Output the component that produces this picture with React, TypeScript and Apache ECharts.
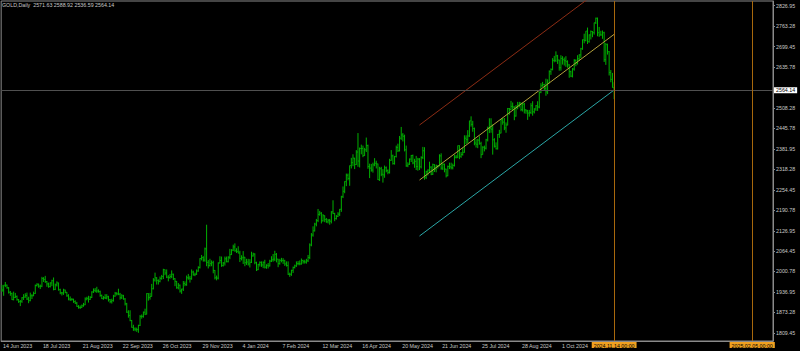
import { useEffect, useRef } from 'react';
import * as echarts from 'echarts';

const FONT = '"Liberation Sans", Arial, sans-serif';
const HEADER = 'GOLD,Daily  2571.63 2588.92 2536.59 2564.14';
const FIRST_DAY = '2023-06-14';
const HOLIDAYS = ['2023-12-25', '2024-01-01', '2024-03-29'];
const FUTURE_SLOTS = 95;
const MONTHS = ['Jan', 'Feb', 'Mar', 'Apr', 'May', 'Jun', 'Jul', 'Aug', 'Sep', 'Oct', 'Nov', 'Dec'];

// daily bars: [open, high, low, close]
const ohlc2023: number[][] = [
  [1943,1959,1937,1943],[1943,1958,1925,1958],[1958,1968,1952,1958],[1958,1960,1947,1950],[1950,1952,1932,1936],[1936,1940,1925,1932],[1932,1935,1912,1913],[1913,1938,1911,1920],[1920,1934,1918,1923],[1923,1926,1910,1913],[1913,1915,1903,1907],[1907,1912,1893,1908],[1908,1921,1903,1919],
  [1919,1930,1912,1921],[1921,1933,1919,1926],[1926,1935,1912,1915],[1915,1922,1902,1910],[1910,1935,1908,1925],[1925,1930,1915,1925],[1925,1938,1924,1932],[1932,1960,1931,1957],[1957,1964,1954,1961],[1961,1963,1950,1955],[1955,1960,1946,1955],[1955,1984,1952,1979],[1979,1983,1968,1976],[1976,1987,1965,1969],[1969,1971,1953,1962],[1962,1966,1950,1954],[1954,1967,1951,1965],[1965,1975,1955,1972],[1972,1982,1942,1945],[1945,1963,1943,1959],[1959,1970,1954,1965],
  [1965,1966,1941,1944],[1944,1947,1930,1934],[1934,1937,1926,1934],[1934,1947,1928,1943],[1943,1944,1933,1936],[1936,1937,1922,1925],[1925,1930,1911,1915],[1915,1923,1909,1913],[1913,1918,1910,1914],[1914,1916,1903,1907],[1907,1911,1900,1902],[1902,1906,1891,1892],[1892,1896,1885,1889],[1889,1895,1884,1889],[1889,1898,1887,1894],[1894,1903,1891,1897],[1897,1920,1896,1915],[1915,1922,1911,1917],[1917,1925,1904,1914],[1914,1924,1912,1920],[1920,1939,1918,1937],[1937,1948,1934,1942],[1942,1949,1936,1940],
  [1940,1953,1934,1940],[1940,1945,1935,1938],[1938,1941,1922,1926],[1926,1929,1915,1916],[1916,1924,1913,1919],[1919,1930,1915,1918],[1918,1930,1914,1922],[1922,1925,1907,1913],[1913,1915,1902,1907],[1907,1916,1901,1910],[1910,1928,1907,1924],[1924,1937,1922,1933],[1933,1936,1926,1931],[1931,1947,1927,1930],[1930,1934,1913,1919],[1919,1930,1915,1925],[1925,1928,1913,1915],[1915,1918,1895,1900],[1900,1903,1872,1874],[1874,1880,1857,1864],[1864,1880,1846,1848],
  [1848,1850,1826,1827],[1827,1835,1816,1822],[1822,1827,1815,1821],[1821,1826,1813,1820],[1820,1835,1810,1833],[1833,1865,1831,1861],[1861,1867,1854,1861],[1861,1876,1857,1874],[1874,1885,1865,1868],[1868,1933,1867,1932],[1932,1933,1910,1920],[1920,1934,1913,1923],[1923,1962,1923,1947],[1947,1980,1945,1974],[1974,1997,1969,1981],[1981,1983,1960,1973],[1973,1976,1960,1970],[1970,1985,1967,1979],[1979,1990,1975,1985],[1985,2009,1977,2006],[2006,2007,1989,1996],[1996,2007,1980,1983],
  [1983,1989,1970,1982],[1982,1993,1978,1985],[1985,2004,1980,1992],[1992,1994,1974,1978],[1978,1980,1955,1970],[1970,1971,1947,1950],[1950,1965,1945,1958],[1958,1960,1935,1940],[1940,1947,1931,1946],[1946,1971,1940,1963],[1963,1970,1955,1960],[1960,1988,1956,1981],[1981,1993,1975,1980],[1980,1987,1966,1978],[1978,2007,1975,1999],[1999,2003,1988,1990],[1990,1997,1986,1992],[1992,2007,1990,2002],[2002,2017,2000,2013],[2013,2042,2010,2041],[2041,2052,2035,2044],[2044,2048,2031,2036],
  [2036,2075,2031,2071],[2071,2146,2017,2029],[2029,2036,2010,2019],[2019,2040,2016,2025],[2025,2035,2017,2028],[2028,2034,1995,2004],[2004,2005,1976,1981],[1981,1988,1973,1980],[1980,2029,1976,2027],[2027,2048,2026,2035],[2035,2047,2015,2019],[2019,2030,2016,2027],[2027,2047,2019,2040],[2040,2047,2029,2031],[2031,2048,2029,2045],[2045,2071,2039,2053],[2053,2070,2052,2067],[2067,2084,2064,2077],[2077,2088,2062,2065],[2065,2073,2058,2063],
];

const ohlc2024: number[][] = [
  [2063,2079,2057,2058],[2058,2065,2030,2041],[2041,2051,2035,2043],[2043,2064,2024,2045],[2045,2046,2017,2028],[2028,2040,2021,2030],[2030,2040,2019,2024],[2024,2039,2013,2029],[2029,2062,2027,2049],[2049,2059,2047,2055],[2055,2057,2023,2028],[2028,2031,2002,2006],[2006,2024,2005,2023],[2023,2032,2016,2029],[2029,2032,2015,2021],[2021,2032,2011,2029],[2029,2037,2010,2014],[2014,2023,2009,2020],[2020,2027,2010,2018],[2018,2037,2016,2033],[2033,2048,2030,2037],[2037,2055,2031,2039],
  [2039,2065,2033,2054],[2054,2058,2029,2039],[2039,2040,2014,2025],[2025,2040,2022,2035],[2035,2043,2029,2035],[2035,2042,2024,2034],[2034,2037,2018,2024],[2024,2032,2016,2019],[2019,2032,1990,1992],[1992,1997,1984,1992],[1992,2006,1987,2004],[2004,2016,1996,2013],[2013,2022,2010,2018],[2018,2032,2015,2025],[2025,2033,2020,2025],[2025,2035,2020,2024],[2024,2041,2022,2035],[2035,2037,2025,2031],[2031,2037,2025,2030],[2030,2040,2025,2034],[2034,2052,2030,2044],
  [2044,2088,2039,2083],[2083,2120,2079,2114],[2114,2141,2109,2127],[2127,2152,2125,2148],[2148,2164,2141,2159],[2159,2195,2154,2178],[2178,2189,2174,2182],[2182,2185,2150,2158],[2158,2179,2156,2174],[2174,2175,2154,2162],[2162,2167,2152,2155],[2155,2164,2150,2160],[2160,2164,2146,2157],[2157,2188,2150,2186],[2186,2222,2179,2181],[2181,2183,2157,2165],[2165,2176,2162,2172],[2172,2185,2170,2179],[2179,2195,2173,2194],[2194,2236,2186,2233],
  [2233,2265,2229,2250],[2250,2281,2244,2280],[2280,2305,2266,2300],[2300,2305,2284,2290],[2290,2330,2267,2330],[2330,2354,2321,2339],[2339,2365,2328,2353],[2353,2354,2319,2333],[2333,2378,2332,2372],[2372,2431,2326,2344],[2344,2386,2324,2383],[2383,2395,2365,2383],[2383,2392,2356,2361],[2361,2385,2360,2379],[2379,2417,2372,2392],[2392,2395,2320,2327],[2327,2336,2291,2322],[2322,2335,2311,2316],[2316,2339,2308,2332],[2332,2353,2328,2337],[2337,2345,2321,2335],[2335,2336,2285,2286],
  [2286,2326,2282,2320],[2320,2326,2297,2303],[2303,2319,2277,2301],[2301,2330,2292,2323],[2323,2327,2309,2314],[2314,2318,2303,2309],[2309,2351,2305,2346],[2346,2378,2345,2360],[2360,2364,2333,2336],[2336,2360,2333,2358],[2358,2392,2355,2386],[2386,2398,2372,2376],[2376,2422,2374,2415],[2415,2450,2410,2425],[2425,2431,2405,2421],[2421,2426,2374,2379],[2379,2392,2326,2329],[2329,2340,2325,2334],[2334,2352,2332,2350],[2350,2363,2341,2361],[2361,2364,2334,2338],[2338,2351,2323,2343],[2343,2360,2316,2327],
  [2327,2354,2314,2350],[2350,2353,2316,2326],[2326,2359,2321,2355],[2355,2388,2350,2376],[2376,2387,2286,2294],[2294,2314,2288,2311],[2311,2318,2299,2316],[2316,2342,2308,2325],[2325,2328,2300,2303],[2303,2336,2301,2333],[2333,2334,2310,2319],[2319,2333,2309,2329],[2329,2331,2321,2328],[2328,2365,2328,2360],[2360,2368,2317,2322],[2322,2337,2316,2334],[2334,2336,2309,2319],[2319,2320,2293,2298],[2298,2330,2297,2327],[2327,2339,2319,2326],
  [2326,2339,2318,2323],[2323,2336,2318,2330],[2330,2364,2327,2356],[2356,2363,2352,2356],[2356,2392,2353,2392],[2392,2393,2350,2359],[2359,2372,2354,2364],[2364,2385,2361,2371],[2371,2424,2370,2415],[2415,2424,2397,2411],[2411,2440,2400,2422],[2422,2469,2419,2469],[2469,2483,2451,2458],[2458,2469,2435,2445],[2445,2448,2393,2400],[2400,2412,2386,2396],[2396,2413,2384,2409],[2409,2421,2395,2398],[2398,2404,2353,2364],[2364,2390,2364,2387],[2387,2392,2374,2384],[2384,2413,2380,2410],[2410,2451,2405,2447],
  [2447,2477,2431,2446],[2446,2477,2432,2443],[2443,2458,2364,2410],[2410,2415,2386,2390],[2390,2402,2380,2382],[2382,2428,2380,2427],[2427,2441,2416,2431],[2431,2474,2430,2472],[2472,2478,2457,2465],[2465,2478,2440,2447],[2447,2464,2432,2456],[2456,2509,2455,2507],[2507,2509,2488,2504],[2504,2531,2503,2514],[2514,2526,2503,2512],[2512,2514,2471,2484],[2484,2518,2482,2512],[2512,2528,2505,2518],[2518,2528,2511,2524],[2524,2526,2499,2504],[2504,2526,2498,2521],[2521,2525,2492,2503],
  [2503,2505,2491,2500],[2500,2503,2472,2493],[2493,2503,2482,2495],[2495,2524,2490,2516],[2516,2530,2485,2497],[2497,2508,2492,2506],[2506,2518,2500,2516],[2516,2530,2500,2512],[2512,2560,2508,2558],[2558,2586,2555,2578],[2578,2590,2575,2582],[2582,2584,2563,2570],[2570,2600,2547,2559],[2559,2598,2552,2586],[2586,2626,2586,2622],[2622,2632,2612,2629],[2629,2664,2626,2657],[2657,2671,2651,2657],[2657,2685,2652,2671],[2671,2674,2646,2658],[2658,2659,2625,2634],
  [2634,2673,2625,2663],[2663,2670,2644,2659],[2659,2666,2641,2656],[2656,2670,2637,2653],[2653,2657,2634,2643],[2643,2645,2603,2622],[2622,2625,2605,2608],[2608,2633,2604,2630],[2630,2661,2625,2657],[2657,2660,2639,2649],[2649,2673,2644,2662],[2662,2676,2655,2674],[2674,2696,2664,2693],[2693,2722,2690,2721],[2721,2740,2710,2719],[2719,2748,2716,2748],[2748,2759,2708,2715],[2715,2738,2712,2736],[2736,2750,2722,2747],[2747,2748,2729,2743],[2743,2774,2737,2774],[2774,2790,2770,2788],[2788,2790,2732,2743],
  [2743,2761,2730,2736],[2736,2749,2734,2736],[2736,2750,2724,2743],[2743,2746,2652,2659],[2659,2711,2643,2706],[2706,2709,2675,2684],[2684,2686,2610,2619],[2619,2627,2589,2598],[2598,2618,2572,2573],[2571.63,2588.92,2536.59,2564.14],
];

const priceTicks = [1809.45, 1873.28, 1936.95, 2000.78, 2064.45, 2126.95, 2190.78, 2254.45, 2318.28, 2381.95, 2445.78, 2508.28, 2635.78, 2699.45, 2763.28, 2826.95];
const Y_MIN = 1784.5;
const Y_MAX = 2841.6;
const LABEL_EVERY = 24;
const LAST_LABELED = 336;

// regression channel: [bar index, price] ends
const channelUpper = [[251, 2456], [368, 2909]];
const channelMid = [[251, 2285], [368, 2738]];
const channelLower = [[251, 2111], [368, 2565]];

const lastPrice = 2564.14;
const markers = [
  { index: 368, label: '2024.11.14 00:00' },
  { index: 451, label: '2025.02.05 00:00' },
];

function fmtDate(d: Date) {
  return `${d.getUTCDate()} ${MONTHS[d.getUTCMonth()]} ${d.getUTCFullYear()}`;
}

function buildCategories(barCount: number) {
  const out: string[] = [];
  const d = new Date(FIRST_DAY + 'T00:00:00Z');
  let n = 0;
  while (n < barCount) {
    const iso = d.toISOString().slice(0, 10);
    const wd = d.getUTCDay();
    if (wd !== 0 && wd !== 6 && !HOLIDAYS.includes(iso)) {
      out.push(fmtDate(d));
      n++;
    }
    d.setUTCDate(d.getUTCDate() + 1);
  }
  for (let k = 0; k < FUTURE_SLOTS; k++) {
    out.push(fmtDate(d));
    d.setUTCDate(d.getUTCDate() + 1);
  }
  return out;
}

const GREEN = '#00b000';
const AXIS = '#8a8a8a';
const TXT = '#c8c8c8';
const ORANGE = '#a8680c';
const ORANGE_BG = '#f0a020';

export default function App() {
  const ref = useRef<HTMLDivElement>(null);
  useEffect(() => {
    document.body.style.margin = '0';
    document.body.style.background = '#000';
    const bars = [...ohlc2023, ...ohlc2024];
    const categories = buildCategories(bars.length);
    const barData = bars.map((b, i) => [i, b[0], b[1], b[2], b[3]]);
    const showTick = (index: number) => index % LABEL_EVERY === 0 && index <= LAST_LABELED;

    const chart = echarts.init(ref.current!, null, { renderer: 'svg' });
    const markLabel = (text: string) => ({
      show: true,
      position: 'start',
      formatter: text,
      backgroundColor: ORANGE_BG,
      color: '#000',
      fontSize: 5.3,
      fontFamily: FONT,
      padding: [1, 2, 0, 2],
      distance: 1,
    });
    chart.setOption({
      animation: false,
      backgroundColor: '#000000',
      textStyle: { fontFamily: FONT },
      title: {
        text: HEADER,
        left: 2,
        top: 2,
        padding: 0,
        textStyle: { color: TXT, fontSize: 5.3, fontWeight: 'normal', fontFamily: FONT },
      },
      grid: {
        left: 1, top: 1, width: 772, height: 340,
        show: true, borderColor: AXIS, borderWidth: 1, backgroundColor: 'transparent',
      },
      xAxis: {
        type: 'category',
        data: categories,
        boundaryGap: true,
        axisLine: { lineStyle: { color: AXIS, width: 1 } },
        axisTick: { alignWithLabel: true, interval: showTick, length: 3, lineStyle: { color: AXIS } },
        axisLabel: {
          interval: showTick, align: 'left', margin: 2, fontSize: 5.3, color: TXT,
          fontFamily: FONT, padding: [0, 0, 0, 1],
        },
        splitLine: { show: false },
      },
      yAxis: {
        type: 'value',
        position: 'right',
        min: Y_MIN,
        max: Y_MAX,
        axisLine: { show: true, lineStyle: { color: AXIS } },
        axisTick: { show: true, length: 2, customValues: priceTicks, lineStyle: { color: AXIS } },
        axisLabel: {
          customValues: priceTicks,
          formatter: (v: number) => v.toFixed(2),
          fontSize: 5.3, color: TXT, margin: 3, fontFamily: FONT,
        },
        splitLine: { show: false },
      },
      series: [
        {
          type: 'custom',
          name: 'GOLD',
          data: barData,
          encode: { x: 0, y: [1, 2, 3, 4] },
          clip: true,
          renderItem: (_p: any, api: any) => {
            const i = api.value(0);
            const o = api.coord([i, api.value(1)]);
            const h = api.coord([i, api.value(2)]);
            const l = api.coord([i, api.value(3)]);
            const c = api.coord([i, api.value(4)]);
            const st = { stroke: GREEN, lineWidth: 1 };
            return {
              type: 'group',
              children: [
                { type: 'line', shape: { x1: h[0], y1: h[1], x2: l[0], y2: l[1] }, style: st },
                { type: 'line', shape: { x1: o[0] - 0.8, y1: o[1], x2: o[0], y2: o[1] }, style: st },
                { type: 'line', shape: { x1: c[0], y1: c[1], x2: c[0] + 0.8, y2: c[1] }, style: st },
              ],
            };
          },
        },
        {
          type: 'line', data: channelUpper, symbol: 'none', clip: true, silent: true,
          lineStyle: { color: '#8c2c14', width: 1 },
        },
        {
          type: 'line', data: channelLower, symbol: 'none', clip: true, silent: true,
          lineStyle: { color: '#2aa6a6', width: 1 },
        },
        {
          type: 'line', data: channelMid, symbol: 'none', clip: false, silent: true,
          lineStyle: { color: '#b4a03c', width: 1 },
          markLine: {
            silent: true,
            symbol: ['none', 'none'],
            animation: false,
            data: [
              {
                yAxis: lastPrice,
                lineStyle: { color: '#505050', type: 'solid', width: 1 },
                label: {
                  show: true, position: 'end', formatter: lastPrice.toFixed(2),
                  backgroundColor: '#ffffff', color: '#000', fontSize: 5.3, fontFamily: FONT,
                  padding: [1, 2, 0, 2], distance: 1,
                },
              },
              ...markers.map((m) => ({
                xAxis: categories[m.index],
                lineStyle: { color: ORANGE, type: 'solid', width: 1 },
                label: markLabel(m.label),
              })),
            ],
          },
        },
      ],
    });
    return () => chart.dispose();
  }, []);
  return (
    <div
      ref={ref}
      style={{ position: 'absolute', left: 0, top: 0, width: 800, height: 351, background: '#000' }}
    />
  );
}
